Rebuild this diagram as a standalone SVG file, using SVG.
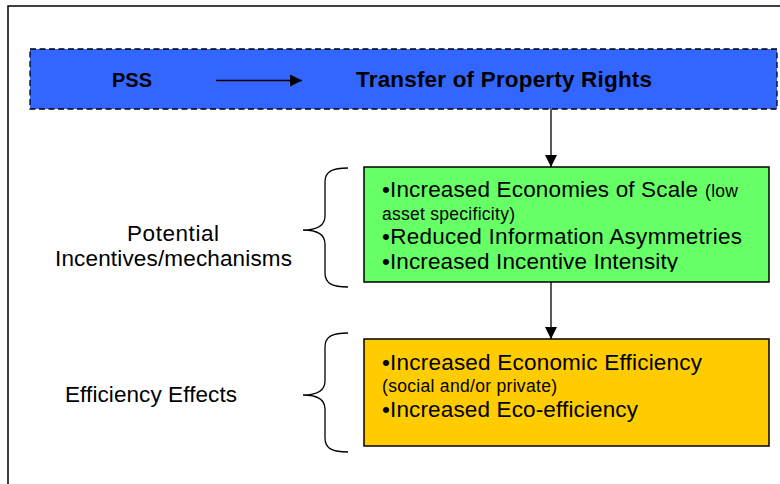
<svg xmlns="http://www.w3.org/2000/svg" width="780" height="484" viewBox="0 0 780 484">
  <defs>
    <marker id="arrow" viewBox="0 0 12 12" refX="12" refY="6" markerWidth="12" markerHeight="12" markerUnits="userSpaceOnUse" orient="auto">
      <path d="M0,0 L12,6 L0,12 Z" fill="#000"/>
    </marker>
    <clipPath id="greenClip">
      <rect x="364" y="167" width="405" height="105"/>
    </clipPath>
  </defs>
  <style>
    text { font-family: "Liberation Sans", Arial, sans-serif; fill: #000; }
    .bold { font-weight: bold; }
    .big { font-size: 22.5px; }
    .small { font-size: 17.5px; }
    .box { stroke: #000; stroke-width: 1.5; }
    .brace { fill: none; stroke: #000; stroke-width: 1.3; }
    .conn { stroke: #000; stroke-width: 1.3; fill: none; }
  </style>

  <!-- frame -->
  <rect x="8" y="6" width="800" height="500" fill="#fff" stroke="#000" stroke-width="1.5"/>

  <!-- top band: PSS -> Transfer of Property Rights -->
  <g id="property-rights">
    <rect x="30" y="49" width="747" height="60" fill="#3366FF" stroke="#000" stroke-width="1.3" stroke-dasharray="6 3.5"/>
    <text class="bold" x="112" y="87" font-size="20" textLength="40">PSS</text>
    <line class="conn" x1="216" y1="80.5" x2="302" y2="80.5" marker-end="url(#arrow)"/>
    <text class="bold" x="356" y="87" font-size="22.5" textLength="296">Transfer of Property Rights</text>
  </g>

  <!-- incentives box -->
  <g id="incentives">
    <rect class="box" x="364" y="167" width="405" height="115" fill="#66FF66"/>
    <g clip-path="url(#greenClip)">
      <text class="big" x="382" y="197" textLength="316">•Increased Economies of Scale</text>
      <text class="small" x="705" y="197" textLength="33">(low</text>
      <text class="small" x="382" y="220" textLength="133">asset specificity)</text>
      <text class="big" x="382" y="244" textLength="360">•Reduced Information Asymmetries</text>
      <text class="big" x="382" y="269" textLength="296">•Increased Incentive Intensity</text>
    </g>
  </g>

  <!-- efficiency box -->
  <g id="efficiency">
    <rect class="box" x="364" y="339" width="405" height="107" fill="#FFCC00"/>
    <text class="big" x="382" y="370" textLength="320">•Increased Economic Efficiency</text>
    <text class="small" x="382" y="392" textLength="175">(social and/or private)</text>
    <text class="big" x="382" y="417" textLength="256">•Increased Eco-efficiency</text>
  </g>

  <!-- side labels with braces -->
  <g id="label-incentives">
    <path class="brace" d="M348,168 C333,168 325,171 325,182 L325,216 C325,226 316,230 303,230 C316,230 325,234 325,244 L325,273 C325,284 333,287 348,287"/>
    <text class="big" x="173" y="241" text-anchor="middle" textLength="92">Potential</text>
    <text class="big" x="173.5" y="266" text-anchor="middle" textLength="237">Incentives/mechanisms</text>
  </g>
  <g id="label-efficiency">
    <path class="brace" d="M348,333 C333,333 325,336 325,347 L325,381 C325,391 316,395 303,395 C316,395 325,399 325,409 L325,438 C325,449 333,452 348,452"/>
    <text class="big" x="151" y="402" text-anchor="middle" textLength="172">Efficiency Effects</text>
  </g>

  <!-- connectors -->
  <g id="connectors">
    <line class="conn" x1="551" y1="109" x2="551" y2="167" marker-end="url(#arrow)"/>
    <line class="conn" x1="551" y1="282" x2="551" y2="339" marker-end="url(#arrow)"/>
  </g>
</svg>
